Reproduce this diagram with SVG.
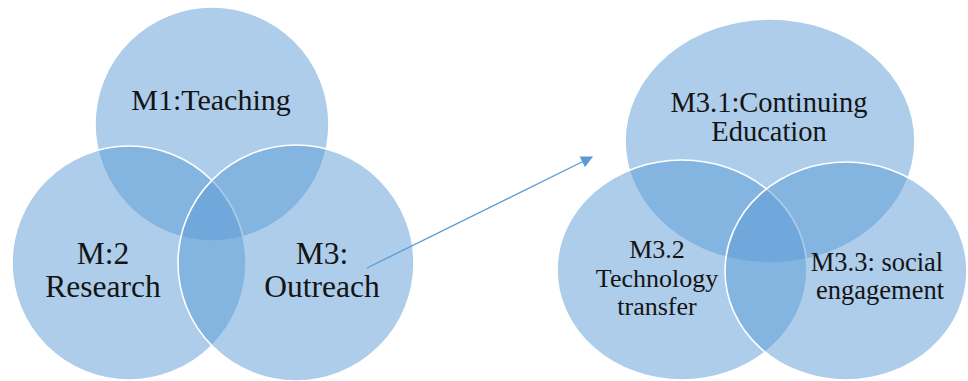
<svg xmlns="http://www.w3.org/2000/svg" width="968" height="381" viewBox="0 0 968 381">
  <defs>
    <style>
      .c { fill: #5b9bd5; fill-opacity: 0.5; stroke: #ffffff; stroke-width: 1.6; }
      .t { fill: #141414; text-anchor: middle; }
      .conn { stroke: #5b9bd5; stroke-width: 1.3; fill: none; }
    </style>
    <marker id="arr" viewBox="0 0 10 10" refX="9" refY="5" markerWidth="14" markerHeight="12" markerUnits="userSpaceOnUse" orient="auto">
      <path d="M0,0 L10,5 L0,10 Z" fill="#5b9bd5"/>
    </marker>
  </defs>
  <rect width="968" height="381" fill="#ffffff"/>

  <g font-family="Liberation Serif, DejaVu Serif, serif">
  <g id="m1-teaching">
    <circle class="c" cx="212" cy="124" r="117"/>
    <text class="t" x="211" y="110" font-size="30">M1:Teaching</text>
  </g>
  <g id="m2-research">
    <circle class="c" cx="129" cy="263" r="117"/>
    <text class="t" x="103" y="264" font-size="31.5">M:2</text>
    <text class="t" x="103" y="297" font-size="31.5">Research</text>
  </g>
  <g id="m3-outreach">
    <circle class="c" cx="296" cy="263" r="118"/>
    <text class="t" x="322" y="264" font-size="31.5">M3:</text>
    <text class="t" x="322" y="297" font-size="31.5">Outreach</text>
  </g>

  <g id="m31-continuing-education">
    <ellipse class="c" cx="770" cy="141" rx="145" ry="122"/>
    <text class="t" x="769" y="112" font-size="28.5">M3.1:Continuing</text>
    <text class="t" x="769" y="141" font-size="28.5">Education</text>
  </g>
  <g id="m32-technology-transfer">
    <ellipse class="c" cx="682" cy="270" rx="125" ry="110"/>
    <text class="t" x="657" y="258" font-size="26">M3.2</text>
    <text class="t" x="657" y="287" font-size="26">Technology</text>
    <text class="t" x="657" y="315" font-size="26">transfer</text>
  </g>
  <g id="m33-social-engagement">
    <ellipse class="c" cx="846" cy="271" rx="121" ry="109"/>
    <text class="t" x="877" y="271" font-size="26.5">M3.3: social</text>
    <text class="t" x="880" y="299" font-size="26.5">engagement</text>
  </g>
  </g>

  <g id="connectors">
    <line class="conn" x1="367" y1="268" x2="592" y2="157" marker-end="url(#arr)"/>
  </g>
</svg>
